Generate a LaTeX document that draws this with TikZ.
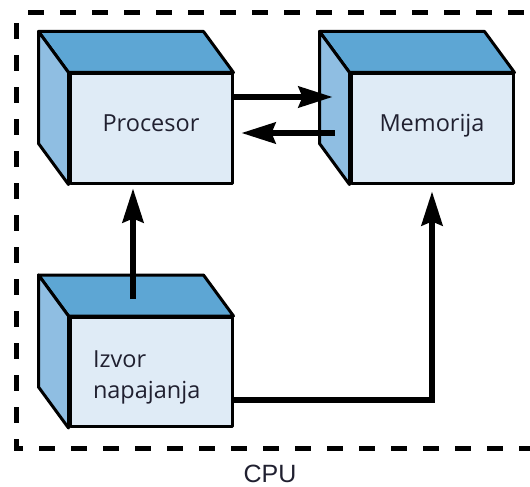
\documentclass[tikz,border=0pt]{standalone}
\usepackage{fontspec}
\setmainfont{Open Sans}
\newfontfamily\cpufont{Liberation Sans}
\usetikzlibrary{calc,arrows.meta}

\definecolor{gornjaboja}{HTML}{5DA6D4}
\definecolor{bocnaboja}{HTML}{8FBEE2}
\definecolor{prednjaboja}{HTML}{DFEBF6}
\definecolor{tekstboja}{HTML}{202030}

\begin{document}
\begin{tikzpicture}[x=1pt, y=-1pt,
    lice/.style={draw, line width=3pt, line join=round, fill=prednjaboja,
        minimum width=162pt, minimum height=109pt, inner sep=0pt,
        text height=17pt, text depth=12pt,
        font=\fontsize{23.5}{31}\selectfont, text=tekstboja},
    strana/.style={draw, line width=3pt, line join=round},
    strelica/.style={line width=5.5pt, -{Stealth[length=34pt, width=21pt, inset=4pt]}},
    okvir/.style={line width=5pt, dash pattern=on 16pt off 16pt}]

    \useasboundingbox (0,0) rectangle (530,487);
    \clip (0,0) rectangle (530,487);

    \pgfmathsetmacro\dx{-30}
    \pgfmathsetmacro\dy{-41}
    \newcommand{\kocka}[4]{
        \node[lice,#4] (#1) at (#2) {#3};
        \filldraw[strana, fill=gornjaboja]
        (#1.north west) -- ++(\dx,\dy)
        -- ($(#1.north east) + (\dx,\dy)$) -- (#1.north east) -- cycle;
        \filldraw[strana, fill=bocnaboja]
        (#1.north west) -- ++(\dx,\dy)
        -- ($(#1.south west) + (\dx,\dy)$) -- (#1.south west) -- cycle;
    }

    % okvir
    \draw[okvir, dash phase=22pt] (16,13) |- (540,448);
    \draw[okvir, dash phase=20pt] (16,13) -- (540,13);
    \node[font=\cpufont\fontsize{25}{25}\selectfont, text=tekstboja, inner sep=0pt] (cpu) at (270,474) {CPU};

    \kocka{proc}{151,128.5}{Procesor}{}
    \kocka{mem}{432,128.5}{Memorija}{}
    \kocka{izvor}{151,372}{Izvor\\napajanja}{text width=116pt, align=left, text depth=27pt}

    \coordinate (gore) at ([yshift=31.5pt]proc.east);
    \draw[strelica] (gore) -- ([xshift=-17pt]mem.west |- gore);
    \draw[strelica] ([xshift=-15pt, yshift=-4.5pt]mem.west) -- ([xshift=8pt, yshift=-4.5pt]proc.east);
    \draw[strelica] ([xshift=-18pt, yshift=17pt]izvor.north) -- ([xshift=-18pt, yshift=-4pt]proc.south);
    \draw[strelica] ([yshift=-28pt]izvor.east) -| ([yshift=-7pt]mem.south);

\end{tikzpicture}
\end{document}
